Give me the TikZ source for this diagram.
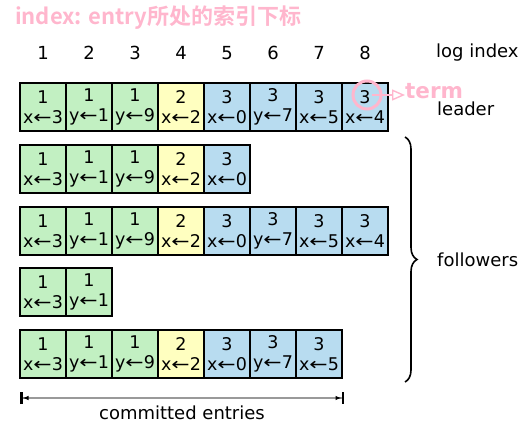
\documentclass[tikz,border=0pt]{standalone}
\usepackage{graphicx}
\usepackage{fontspec}
\setmainfont{DejaVu Sans}
\newfontfamily\cjk{Noto Sans CJK SC}[BoldFont={Noto Sans CJK SC Bold}]
\usetikzlibrary{arrows.meta,decorations.pathreplacing}
\definecolor{tgreen}{RGB}{194,240,194}
\definecolor{tyellow}{RGB}{255,255,192}
\definecolor{tblue}{RGB}{184,220,240}
\definecolor{pinkc}{RGB}{255,182,205}
\newcommand\lar{\scalebox{1.25}[1]{←}}
\newcommand\logrow[3]{%
  \foreach \t/\v/\n/\c [count=\i] in {#3} {%
    \node[cellbox,fill=\c] (#1c\i) at ({46*\i-3},#2) {\t\\\v\lar\n};
  }}
\begin{document}
\begin{tikzpicture}[x=1pt,y=-1pt,
  cellbox/.style={draw=black, line width=1.5pt, minimum width=46pt, minimum height=48pt,
    inner sep=0pt, align=center, font=\fontsize{17.5}{20}\selectfont},
  lbl/.style={font=\fontsize{18}{21}\selectfont, inner sep=0pt},
  pinktext/.style={text=pinkc, font=\cjk\bfseries\fontsize{22}{26}\selectfont, inner sep=0pt}]
\useasboundingbox (0,0) rectangle (524,423);
\node[pinktext, anchor=west] (title) at (15,18) {index: entry所处的索引下标};
\foreach \i in {1,...,8} \node[lbl] (h\i) at ({46*\i-3},53) {\i};
\node[lbl, anchor=west] (logidx) at (436,53) {log index};
\logrow{a}{107}{1/x/3/tgreen, 1/y/1/tgreen, 1/y/9/tgreen, 2/x/2/tyellow, 3/x/0/tblue, 3/y/7/tblue, 3/x/5/tblue, 3/x/4/tblue}
\logrow{b}{169}{1/x/3/tgreen, 1/y/1/tgreen, 1/y/9/tgreen, 2/x/2/tyellow, 3/x/0/tblue}
\logrow{c}{231}{1/x/3/tgreen, 1/y/1/tgreen, 1/y/9/tgreen, 2/x/2/tyellow, 3/x/0/tblue, 3/y/7/tblue, 3/x/5/tblue, 3/x/4/tblue}
\logrow{d}{292}{1/x/3/tgreen, 1/y/1/tgreen}
\logrow{e}{354}{1/x/3/tgreen, 1/y/1/tgreen, 1/y/9/tgreen, 2/x/2/tyellow, 3/x/0/tblue, 3/y/7/tblue, 3/x/5/tblue}
\node[lbl, anchor=west] (leader) at (437,109) {leader};
\node[lbl, anchor=west] (followers) at (437,260) {followers};
\coordinate (b1) at (405,137);
\coordinate (b2) at (405,382);
\draw[decorate, decoration={brace, amplitude=12pt}, line width=1.6pt] (b1) -- (b2);
\node[circle, draw=pinkc, line width=3pt, minimum size=28pt, inner sep=0pt] (tc) at (367,95) {};
\node[text=pinkc, font=\bfseries\fontsize{21.5}{25}\selectfont, inner sep=0pt, anchor=west] (term) at (405,91) {term};
\draw[pinkc, line width=1.4pt, -{Triangle[open, length=13pt, width=11pt]}] ([xshift=5pt]tc.center) -- (term.west|-tc.center);
\coordinate (c1) at (20,398);
\coordinate (c2) at (344,398);
\draw[line width=1.2pt, draw=black!40, {Bar[width=12pt, line width=2.5pt, black]Latex[length=6pt, black]}-{Latex[length=6pt, black]Bar[width=12pt, line width=2.5pt, black]}] (c1) -- (c2);
\node[lbl] (committed) at (182,413) {committed entries};
\end{tikzpicture}
\end{document}
